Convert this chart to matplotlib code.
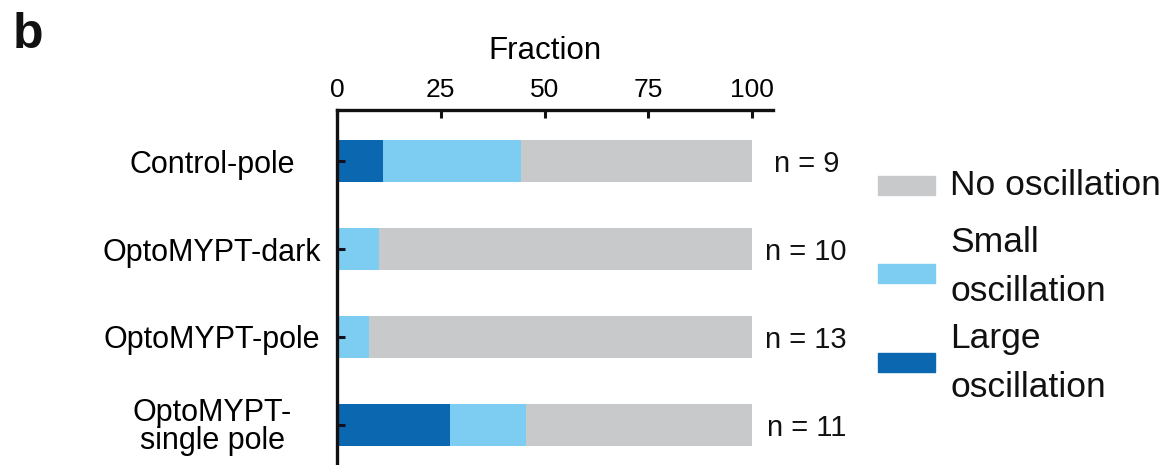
import numpy as np
import matplotlib
matplotlib.use("Agg")
import matplotlib.pyplot as plt
from matplotlib.patches import Rectangle

plt.rcParams['font.family'] = ['Liberation Sans', 'DejaVu Sans']
plt.rcParams['text.color'] = '#111111'

# Data (percent of cells)
categories = ["Control-pole", "OptoMYPT-dark", "OptoMYPT-pole", "OptoMYPT-\nsingle pole"]
large_osc = [11.1, 0.0, 0.0, 27.3]
small_osc = [33.3, 10.0, 7.7, 18.2]
no_osc = [55.6, 90.0, 92.3, 54.5]
n_cells = [9, 10, 13, 11]
xticks = [0, 25, 50, 75, 100]

c_large = '#0a67b0'
c_small = '#7dcdf3'
c_none = '#c8c9cb'

W, H = 1170, 465
fig = plt.figure(figsize=(W / 100, H / 100), dpi=100)
ax = fig.add_axes([337 / W, 0, 436 / W, 355 / H])

y = np.arange(len(categories))
large = np.array(large_osc)
small = np.array(small_osc)
none = np.array(no_osc)
ax.barh(y, large, height=0.48, color=c_large, zorder=2)
ax.barh(y, small, left=large, height=0.48, color=c_small, zorder=2)
ax.barh(y, none, left=large + small, height=0.48, color=c_none, zorder=2)

ax.set_xlim(0, 105)
ax.set_ylim(3.455, -0.58)
ax.set_axisbelow(False)

# axis on top
ax.xaxis.tick_top()
ax.xaxis.set_label_position('top')
ax.set_xticks(xticks)
ax.set_xticklabels([str(t) for t in xticks])
ax.tick_params(axis='x', direction='in', length=6, width=2.2, pad=5.5,
               labelsize=19, color='#111111')
ax.set_xlabel("Fraction", fontsize=22.5, labelpad=14, x=50 / 105)

ax.set_yticks(y)
ax.set_yticklabels(categories)
ax.tick_params(axis='y', direction='in', length=6, width=2.2, pad=90,
               labelsize=22, color='#111122')
for lab in ax.get_yticklabels():
    lab.set_horizontalalignment('center')
    lab.set_multialignment('center')
    lab.set_linespacing(0.9)

for s in ['right', 'bottom']:
    ax.spines[s].set_visible(False)
for s in ['top', 'left']:
    ax.spines[s].set_linewidth(2.4)
    ax.spines[s].set_color('#111111')

for yi, n in zip(y, n_cells):
    ax.text(113, yi, f"n = {n}", ha='center', va='center_baseline', fontsize=21)

# legend drawn by hand (y values: patch centre, last-line baseline in pixels)
leg_items = [(c_none, "No oscillation", 186, 195),
             (c_small, "Small\noscillation", 274, 301),
             (c_large, "Large\noscillation", 362, 397)]
for col, txt, yc, yb in leg_items:
    fig.add_artist(Rectangle((878 / W, 1 - (yc + 9.5) / H), 57 / W, 19 / H,
                             transform=fig.transFigure, color=col))
    fig.text(950 / W, 1 - yb / H, txt, ha='left', va='baseline',
             fontsize=25.5, linespacing=1.6)

fig.text(13 / W, 1 - 48 / H, "b", fontsize=36, fontweight='bold',
         ha='left', va='baseline')

fig.savefig("out.png", dpi=100)
